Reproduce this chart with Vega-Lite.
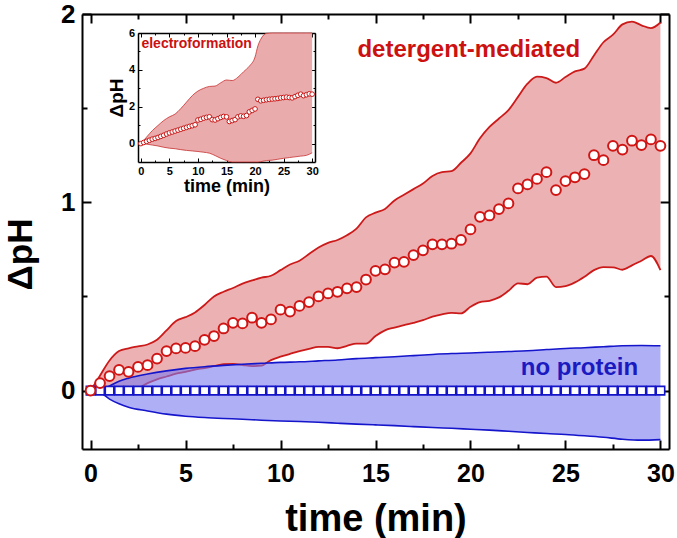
{
  "$schema": "https://vega.github.io/schema/vega-lite/v6.json",
  "width": 587,
  "height": 435,
  "autosize": "none",
  "padding": {"left": 82, "top": 14, "right": 8, "bottom": 89},
  "background": "white",
  "config": {
    "view": {"stroke": null},
    "font": "Liberation Sans",
    "axis": {"grid": false, "domainColor": "#000", "tickColor": "#000", "labelColor": "#000", "titleColor": "#000", "labelFont": "Liberation Sans", "titleFont": "Liberation Sans", "labelFontWeight": "bold", "titleFontWeight": "bold", "labelFlush": false, "labelOverlap": false, "labelBound": false, "format": "d", "zindex": 2}
  },
  "datasets": {
    "redband": [
      {"t":0,"lo":0,"hi":0},{"t":0.5,"lo":-0.01,"hi":0.08},{"t":1,"lo":-0.006,"hi":0.16},{"t":1.5,"lo":-0.003,"hi":0.21},{"t":2,"lo":0,"hi":0.225},{"t":2.5,"lo":0.012,"hi":0.235},{"t":3,"lo":0.04,"hi":0.245},{"t":3.5,"lo":0.06,"hi":0.27},{"t":4,"lo":0.075,"hi":0.32},{"t":4.5,"lo":0.09,"hi":0.37},{"t":5,"lo":0.1,"hi":0.39},{"t":5.5,"lo":0.112,"hi":0.415},{"t":6,"lo":0.12,"hi":0.455},{"t":6.5,"lo":0.13,"hi":0.5},{"t":7,"lo":0.14,"hi":0.525},{"t":7.5,"lo":0.142,"hi":0.545},{"t":8,"lo":0.136,"hi":0.568},{"t":8.5,"lo":0.13,"hi":0.585},{"t":9,"lo":0.133,"hi":0.6},{"t":9.5,"lo":0.162,"hi":0.61},{"t":10,"lo":0.18,"hi":0.64},{"t":10.5,"lo":0.195,"hi":0.67},{"t":11,"lo":0.21,"hi":0.69},{"t":11.5,"lo":0.222,"hi":0.725},{"t":12,"lo":0.232,"hi":0.76},{"t":12.5,"lo":0.232,"hi":0.785},{"t":13,"lo":0.225,"hi":0.8},{"t":13.5,"lo":0.238,"hi":0.825},{"t":14,"lo":0.25,"hi":0.86},{"t":14.5,"lo":0.25,"hi":0.92},{"t":15,"lo":0.29,"hi":0.945},{"t":15.5,"lo":0.32,"hi":0.965},{"t":16,"lo":0.335,"hi":1.01},{"t":16.5,"lo":0.348,"hi":1.04},{"t":17,"lo":0.36,"hi":1.07},{"t":17.5,"lo":0.374,"hi":1.1},{"t":18,"lo":0.393,"hi":1.14},{"t":18.5,"lo":0.405,"hi":1.16},{"t":19,"lo":0.413,"hi":1.165},{"t":19.5,"lo":0.41,"hi":1.21},{"t":20,"lo":0.445,"hi":1.26},{"t":20.5,"lo":0.47,"hi":1.34},{"t":21,"lo":0.477,"hi":1.4},{"t":21.5,"lo":0.495,"hi":1.445},{"t":22,"lo":0.53,"hi":1.49},{"t":22.5,"lo":0.57,"hi":1.56},{"t":23,"lo":0.565,"hi":1.63},{"t":23.5,"lo":0.6,"hi":1.667},{"t":24,"lo":0.605,"hi":1.66},{"t":24.5,"lo":0.55,"hi":1.635},{"t":25,"lo":0.555,"hi":1.665},{"t":25.5,"lo":0.575,"hi":1.695},{"t":26,"lo":0.605,"hi":1.71},{"t":26.5,"lo":0.64,"hi":1.78},{"t":27,"lo":0.656,"hi":1.85},{"t":27.5,"lo":0.655,"hi":1.89},{"t":28,"lo":0.642,"hi":1.945},{"t":28.5,"lo":0.665,"hi":1.96},{"t":29,"lo":0.69,"hi":1.94},{"t":29.5,"lo":0.715,"hi":1.925},{"t":30,"lo":0.64,"hi":1.955}
    ],
    "blueband": [
      {"t":0,"lo":0,"hi":0},{"t":0.5,"lo":-0.01,"hi":0.005},{"t":1,"lo":-0.045,"hi":0.025},{"t":1.5,"lo":-0.07,"hi":0.05},{"t":2,"lo":-0.088,"hi":0.066},{"t":3,"lo":-0.108,"hi":0.088},{"t":4,"lo":-0.125,"hi":0.105},{"t":5,"lo":-0.136,"hi":0.118},{"t":6,"lo":-0.143,"hi":0.127},{"t":7,"lo":-0.148,"hi":0.134},{"t":8,"lo":-0.152,"hi":0.14},{"t":9,"lo":-0.157,"hi":0.145},{"t":10,"lo":-0.161,"hi":0.15},{"t":11,"lo":-0.164,"hi":0.153},{"t":12,"lo":-0.168,"hi":0.158},{"t":13,"lo":-0.173,"hi":0.163},{"t":14,"lo":-0.178,"hi":0.17},{"t":15,"lo":-0.182,"hi":0.175},{"t":16,"lo":-0.186,"hi":0.18},{"t":17,"lo":-0.191,"hi":0.186},{"t":18,"lo":-0.196,"hi":0.192},{"t":19,"lo":-0.2,"hi":0.197},{"t":20,"lo":-0.205,"hi":0.2},{"t":21,"lo":-0.21,"hi":0.204},{"t":22,"lo":-0.216,"hi":0.208},{"t":23,"lo":-0.222,"hi":0.212},{"t":24,"lo":-0.228,"hi":0.218},{"t":25,"lo":-0.233,"hi":0.224},{"t":26,"lo":-0.24,"hi":0.228},{"t":27,"lo":-0.248,"hi":0.233},{"t":28,"lo":-0.258,"hi":0.238},{"t":29,"lo":-0.263,"hi":0.24},{"t":30,"lo":-0.26,"hi":0.238}
    ],
    "det": [
      {"t":0,"v":0},{"t":0.5,"v":0.04},{"t":1,"v":0.077},{"t":1.5,"v":0.11},{"t":2,"v":0.1},{"t":2.5,"v":0.126},{"t":3,"v":0.135},{"t":3.5,"v":0.17},{"t":4,"v":0.21},{"t":4.5,"v":0.224},{"t":5,"v":0.227},{"t":5.5,"v":0.236},{"t":6,"v":0.27},{"t":6.5,"v":0.29},{"t":7,"v":0.33},{"t":7.5,"v":0.36},{"t":8,"v":0.357},{"t":8.5,"v":0.387},{"t":9,"v":0.36},{"t":9.5,"v":0.378},{"t":10,"v":0.43},{"t":10.5,"v":0.42},{"t":11,"v":0.45},{"t":11.5,"v":0.47},{"t":12,"v":0.5},{"t":12.5,"v":0.516},{"t":13,"v":0.525},{"t":13.5,"v":0.543},{"t":14,"v":0.55},{"t":14.5,"v":0.59},{"t":15,"v":0.636},{"t":15.5,"v":0.644},{"t":16,"v":0.68},{"t":16.5,"v":0.684},{"t":17,"v":0.72},{"t":17.5,"v":0.745},{"t":18,"v":0.777},{"t":18.5,"v":0.777},{"t":19,"v":0.78},{"t":19.5,"v":0.8},{"t":20,"v":0.856},{"t":20.5,"v":0.923},{"t":21,"v":0.93},{"t":21.5,"v":0.964},{"t":22,"v":0.994},{"t":22.5,"v":1.074},{"t":23,"v":1.095},{"t":23.5,"v":1.124},{"t":24,"v":1.16},{"t":24.5,"v":1.065},{"t":25,"v":1.113},{"t":25.5,"v":1.133},{"t":26,"v":1.15},{"t":26.5,"v":1.25},{"t":27,"v":1.224},{"t":27.5,"v":1.3},{"t":28,"v":1.28},{"t":28.5,"v":1.327},{"t":29,"v":1.304},{"t":29.5,"v":1.334},{"t":30,"v":1.3}
    ],
    "noprot": [
      {"t":0,"v":0},{"t":0.5,"v":0},{"t":1,"v":0},{"t":1.5,"v":0},{"t":2,"v":0},{"t":2.5,"v":0},{"t":3,"v":0},{"t":3.5,"v":0},{"t":4,"v":0},{"t":4.5,"v":0},{"t":5,"v":0},{"t":5.5,"v":0},{"t":6,"v":0},{"t":6.5,"v":0},{"t":7,"v":0},{"t":7.5,"v":0},{"t":8,"v":0},{"t":8.5,"v":0},{"t":9,"v":0},{"t":9.5,"v":0},{"t":10,"v":0},{"t":10.5,"v":0},{"t":11,"v":0},{"t":11.5,"v":0},{"t":12,"v":0},{"t":12.5,"v":0},{"t":13,"v":0},{"t":13.5,"v":0},{"t":14,"v":0},{"t":14.5,"v":0},{"t":15,"v":0},{"t":15.5,"v":0},{"t":16,"v":0},{"t":16.5,"v":0},{"t":17,"v":0},{"t":17.5,"v":0},{"t":18,"v":0},{"t":18.5,"v":0},{"t":19,"v":0},{"t":19.5,"v":0},{"t":20,"v":0},{"t":20.5,"v":0},{"t":21,"v":0},{"t":21.5,"v":0},{"t":22,"v":0},{"t":22.5,"v":0},{"t":23,"v":0},{"t":23.5,"v":0},{"t":24,"v":0},{"t":24.5,"v":0},{"t":25,"v":0},{"t":25.5,"v":0},{"t":26,"v":0},{"t":26.5,"v":0},{"t":27,"v":0},{"t":27.5,"v":0},{"t":28,"v":0},{"t":28.5,"v":0},{"t":29,"v":0},{"t":29.5,"v":0},{"t":30,"v":0}
    ],
    "electro": [
      {"t":0,"v":0},{"t":0.5,"v":0.06},{"t":1,"v":0.12},{"t":1.5,"v":0.18},{"t":2,"v":0.24},{"t":2.5,"v":0.28},{"t":3,"v":0.33},{"t":3.5,"v":0.39},{"t":4,"v":0.45},{"t":4.5,"v":0.52},{"t":5,"v":0.58},{"t":5.5,"v":0.63},{"t":6,"v":0.68},{"t":6.5,"v":0.73},{"t":7,"v":0.78},{"t":7.5,"v":0.83},{"t":8,"v":0.88},{"t":8.5,"v":0.93},{"t":9,"v":0.97},{"t":9.5,"v":1.02},{"t":10,"v":1.28},{"t":10.5,"v":1.32},{"t":11,"v":1.38},{"t":11.5,"v":1.42},{"t":12,"v":1.45},{"t":12.5,"v":1.3},{"t":13,"v":1.28},{"t":13.5,"v":1.35},{"t":14,"v":1.42},{"t":14.5,"v":1.47},{"t":15,"v":1.45},{"t":15.5,"v":1.2},{"t":16,"v":1.25},{"t":16.5,"v":1.3},{"t":17,"v":1.45},{"t":17.5,"v":1.5},{"t":18,"v":1.48},{"t":18.5,"v":1.52},{"t":19,"v":1.72},{"t":19.5,"v":1.8},{"t":20,"v":1.88},{"t":20.5,"v":2.4},{"t":21,"v":2.32},{"t":21.5,"v":2.35},{"t":22,"v":2.38},{"t":22.5,"v":2.4},{"t":23,"v":2.42},{"t":23.5,"v":2.43},{"t":24,"v":2.45},{"t":24.5,"v":2.48},{"t":25,"v":2.5},{"t":25.5,"v":2.52},{"t":26,"v":2.5},{"t":26.5,"v":2.48},{"t":27,"v":2.55},{"t":27.5,"v":2.62},{"t":28,"v":2.68},{"t":28.5,"v":2.6},{"t":29,"v":2.65},{"t":29.5,"v":2.7},{"t":30,"v":2.68}
    ],
    "eband": [
      {"t":0,"lo":0,"hi":0},{"t":1,"lo":-0.03,"hi":0.35},{"t":2,"lo":-0.08,"hi":0.7},{"t":3,"lo":-0.13,"hi":0.98},{"t":4,"lo":-0.2,"hi":1.25},{"t":5,"lo":-0.25,"hi":1.45},{"t":6,"lo":-0.28,"hi":1.6},{"t":7,"lo":-0.33,"hi":1.9},{"t":8,"lo":-0.37,"hi":2.25},{"t":9,"lo":-0.4,"hi":2.6},{"t":10,"lo":-0.43,"hi":2.85},{"t":11,"lo":-0.47,"hi":3.0},{"t":12,"lo":-0.52,"hi":3.1},{"t":13,"lo":-0.65,"hi":3.12},{"t":14,"lo":-0.8,"hi":3.3},{"t":15,"lo":-0.92,"hi":3.45},{"t":16,"lo":-1.0,"hi":3.42},{"t":17,"lo":-1.0,"hi":3.6},{"t":18,"lo":-1.0,"hi":3.9},{"t":19,"lo":-1.0,"hi":4.2},{"t":20,"lo":-1.0,"hi":4.7},{"t":20.5,"lo":-1.0,"hi":5.3},{"t":21,"lo":-0.98,"hi":5.66},{"t":22,"lo":-0.92,"hi":5.98},{"t":23,"lo":-0.9,"hi":6.0},{"t":24,"lo":-0.85,"hi":6.0},{"t":25,"lo":-0.8,"hi":6.0},{"t":26,"lo":-0.76,"hi":6.0},{"t":27,"lo":-0.72,"hi":6.0},{"t":28,"lo":-0.68,"hi":6.0},{"t":29,"lo":-0.64,"hi":6.0},{"t":30,"lo":-0.5,"hi":6.0}
    ],
    "anchor": [{"t": 0, "v": 0}]
  },
  "layer": [
    {
      "layer": [
        {
          "data": {"name": "redband"},
          "mark": {"type": "area", "fill": "#ECB2B3", "interpolate": "monotone"},
          "encoding": {
            "x": {"field": "t", "type": "quantitative", "title": "time (min)", "scale": {"domain": [-0.45, 30.45], "nice": false, "zero": false},
              "axis": {"orient": "bottom", "values": [0,5,10,15,20,25,30], "ticks": false, "tickSize": 0, "domainWidth": 2,
                "labelFontSize": 25, "labelPadding": 12, "titleFontSize": 38, "titleBaseline": "alphabetic", "titleY": 81}},
            "y": {"field": "hi", "type": "quantitative", "title": "ΔpH", "scale": {"domain": [-0.31, 2], "nice": false, "zero": false},
              "axis": {"orient": "left", "values": [0,1,2], "ticks": false, "tickSize": 0, "domainWidth": 2,
                "labelFontSize": 26, "labelPadding": 7, "titleFontSize": 35, "titleBaseline": "alphabetic", "titleX": -51, "titleY": 240}},
            "y2": {"field": "lo"}
          }
        },
        {
          "data": {"name": "redband"},
          "mark": {"type": "line", "color": "#CC1A1A", "strokeWidth": 1.8, "interpolate": "monotone"},
          "encoding": {
            "x": {"field": "t", "type": "quantitative", "scale": {"domain": [-0.45, 30.45], "nice": false, "zero": false}, "axis": null},
            "y": {"field": "hi", "type": "quantitative", "scale": {"domain": [-0.31, 2], "nice": false, "zero": false}, "axis": null}
          }
        },
        {
          "data": {"name": "redband"},
          "mark": {"type": "line", "color": "#CC1A1A", "strokeWidth": 1.8, "interpolate": "monotone"},
          "encoding": {
            "x": {"field": "t", "type": "quantitative", "scale": {"domain": [-0.45, 30.45], "nice": false, "zero": false}, "axis": null},
            "y": {"field": "lo", "type": "quantitative", "scale": {"domain": [-0.31, 2], "nice": false, "zero": false}, "axis": null}
          }
        },
        {
          "data": {"name": "blueband"},
          "mark": {"type": "area", "fill": "#7A7AF0", "opacity": 0.6, "interpolate": "monotone"},
          "encoding": {
            "x": {"field": "t", "type": "quantitative", "scale": {"domain": [-0.45, 30.45], "nice": false, "zero": false}, "axis": null},
            "y": {"field": "hi", "type": "quantitative", "scale": {"domain": [-0.31, 2], "nice": false, "zero": false}, "axis": null},
            "y2": {"field": "lo"}
          }
        },
        {
          "data": {"name": "blueband"},
          "mark": {"type": "line", "color": "#1515CC", "strokeWidth": 1.6, "interpolate": "monotone"},
          "encoding": {
            "x": {"field": "t", "type": "quantitative", "scale": {"domain": [-0.45, 30.45], "nice": false, "zero": false}, "axis": null},
            "y": {"field": "hi", "type": "quantitative", "scale": {"domain": [-0.31, 2], "nice": false, "zero": false}, "axis": null}
          }
        },
        {
          "data": {"name": "blueband"},
          "mark": {"type": "line", "color": "#1515CC", "strokeWidth": 1.6, "interpolate": "monotone"},
          "encoding": {
            "x": {"field": "t", "type": "quantitative", "scale": {"domain": [-0.45, 30.45], "nice": false, "zero": false}, "axis": null},
            "y": {"field": "lo", "type": "quantitative", "scale": {"domain": [-0.31, 2], "nice": false, "zero": false}, "axis": null}
          }
        },
        {
          "data": {"name": "noprot"},
          "mark": {"type": "point", "shape": "square", "size": 72, "filled": true, "fill": "white", "stroke": "#1414C8", "strokeWidth": 1.6, "opacity": 1},
          "encoding": {
            "x": {"field": "t", "type": "quantitative", "scale": {"domain": [-0.45, 30.45], "nice": false, "zero": false}, "axis": null},
            "y": {"field": "v", "type": "quantitative", "scale": {"domain": [-0.31, 2], "nice": false, "zero": false}, "axis": null}
          }
        },
        {
          "data": {"name": "det"},
          "mark": {"type": "point", "shape": "circle", "size": 95, "filled": true, "fill": "white", "stroke": "#D01515", "strokeWidth": 2, "opacity": 1},
          "encoding": {
            "x": {"field": "t", "type": "quantitative", "scale": {"domain": [-0.45, 30.45], "nice": false, "zero": false}, "axis": null},
            "y": {"field": "v", "type": "quantitative", "scale": {"domain": [-0.31, 2], "nice": false, "zero": false}, "axis": null}
          }
        },
        {
          "data": {"values": [{"t": 14.05, "v": 1.77, "label": "detergent-mediated"}]},
          "mark": {"type": "text", "align": "left", "baseline": "alphabetic", "fontSize": 24, "fontWeight": "bold", "font": "Liberation Sans", "color": "#CC1111"},
          "encoding": {
            "x": {"field": "t", "type": "quantitative", "scale": {"domain": [-0.45, 30.45], "nice": false, "zero": false}, "axis": null},
            "y": {"field": "v", "type": "quantitative", "scale": {"domain": [-0.31, 2], "nice": false, "zero": false}, "axis": null},
            "text": {"field": "label"}
          }
        },
        {
          "data": {"values": [{"t": 22.65, "v": 0.085, "label": "no protein"}]},
          "mark": {"type": "text", "align": "left", "baseline": "alphabetic", "fontSize": 24, "fontWeight": "bold", "font": "Liberation Sans", "color": "#1A1AC0"},
          "encoding": {
            "x": {"field": "t", "type": "quantitative", "scale": {"domain": [-0.45, 30.45], "nice": false, "zero": false}, "axis": null},
            "y": {"field": "v", "type": "quantitative", "scale": {"domain": [-0.31, 2], "nice": false, "zero": false}, "axis": null},
            "text": {"field": "label"}
          }
        },
        {
          "data": {"name": "anchor"},
          "mark": {"type": "point", "opacity": 0},
          "encoding": {
            "x": {"field": "t", "type": "quantitative", "scale": {"domain": [-0.45, 30.45], "nice": false, "zero": false},
              "axis": {"orient": "top", "offset": -435, "title": null, "labels": false, "domain": false, "values": [0,5,10,15,20,25,30], "tickSize": 9, "tickWidth": 2}},
            "y": {"field": "v", "type": "quantitative", "scale": {"domain": [-0.31, 2], "nice": false, "zero": false},
              "axis": {"orient": "right", "offset": -587, "title": null, "labels": false, "domain": false, "values": [0,1,2], "tickSize": 9, "tickWidth": 2}}
          }
        },
        {
          "data": {"name": "anchor"},
          "mark": {"type": "point", "opacity": 0},
          "encoding": {
            "x": {"field": "t", "type": "quantitative", "scale": {"domain": [-0.45, 30.45], "nice": false, "zero": false},
              "axis": {"orient": "top", "offset": -435, "title": null, "labels": false, "domain": false, "values": [2.5,7.5,12.5,17.5,22.5,27.5], "tickSize": 5, "tickWidth": 2}},
            "y": {"field": "v", "type": "quantitative", "scale": {"domain": [-0.31, 2], "nice": false, "zero": false},
              "axis": {"orient": "right", "offset": -587, "title": null, "labels": false, "domain": false, "values": [0.5,1.5], "tickSize": 5, "tickWidth": 2}}
          }
        },
        {
          "data": {"name": "anchor"},
          "mark": {"type": "point", "opacity": 0},
          "encoding": {
            "x": {"field": "t", "type": "quantitative", "scale": {"domain": [-0.45, 30.45], "nice": false, "zero": false},
              "axis": {"orient": "bottom", "offset": -435, "title": null, "labels": false, "domain": true, "domainWidth": 2, "values": [0,5,10,15,20,25,30], "tickSize": 9, "tickWidth": 2}},
            "y": {"field": "v", "type": "quantitative", "scale": {"domain": [-0.31, 2], "nice": false, "zero": false},
              "axis": {"orient": "left", "offset": -587, "title": null, "labels": false, "domain": true, "domainWidth": 2, "values": [0,1,2], "tickSize": 9, "tickWidth": 2}}
          }
        },
        {
          "data": {"name": "anchor"},
          "mark": {"type": "point", "opacity": 0},
          "encoding": {
            "x": {"field": "t", "type": "quantitative", "scale": {"domain": [-0.45, 30.45], "nice": false, "zero": false},
              "axis": {"orient": "bottom", "offset": -435, "title": null, "labels": false, "domain": false, "values": [2.5,7.5,12.5,17.5,22.5,27.5], "tickSize": 5, "tickWidth": 2}},
            "y": {"field": "v", "type": "quantitative", "scale": {"domain": [-0.31, 2], "nice": false, "zero": false},
              "axis": {"orient": "left", "offset": -587, "title": null, "labels": false, "domain": false, "values": [0.5,1.5], "tickSize": 5, "tickWidth": 2}}
          }
        }
      ],
      "resolve": {"axis": {"x": "independent", "y": "independent"}}
    },
    {
      "layer": [
        {
          "data": {"name": "eband"},
          "mark": {"type": "area", "fill": "#E9ABAC", "interpolate": "monotone"},
          "encoding": {
            "x": {"field": "t", "type": "quantitative", "title": "time (min)", "scale": {"domain": [-0.5, 30.5], "range": [56, 233], "nice": false, "zero": false},
              "axis": {"orient": "bottom", "offset": -287, "values": [0,5,10,15,20,25,30], "ticks": false, "tickSize": 0, "domainWidth": 1.5,
                "labelFontSize": 11, "labelPadding": 3, "titleFontSize": 18, "titlePadding": 1}},
            "y": {"field": "hi", "type": "quantitative", "title": "ΔpH", "scale": {"domain": [-1, 6], "range": [148, 19], "nice": false, "zero": false},
              "axis": {"orient": "left", "offset": -56, "values": [0,2,4,6], "ticks": false, "tickSize": 0, "domainWidth": 1.5,
                "labelFontSize": 11, "labelPadding": 3.5, "titleFontSize": 19, "titlePadding": 2}},
            "y2": {"field": "lo"}
          }
        },
        {
          "data": {"name": "eband"},
          "mark": {"type": "line", "color": "#C83030", "strokeWidth": 0.8, "interpolate": "monotone"},
          "encoding": {
            "x": {"field": "t", "type": "quantitative", "scale": {"domain": [-0.5, 30.5], "range": [56, 233], "nice": false, "zero": false}, "axis": null},
            "y": {"field": "hi", "type": "quantitative", "scale": {"domain": [-1, 6], "range": [148, 19], "nice": false, "zero": false}, "axis": null}
          }
        },
        {
          "data": {"name": "eband"},
          "mark": {"type": "line", "color": "#C83030", "strokeWidth": 0.8, "interpolate": "monotone"},
          "encoding": {
            "x": {"field": "t", "type": "quantitative", "scale": {"domain": [-0.5, 30.5], "range": [56, 233], "nice": false, "zero": false}, "axis": null},
            "y": {"field": "lo", "type": "quantitative", "scale": {"domain": [-1, 6], "range": [148, 19], "nice": false, "zero": false}, "axis": null}
          }
        },
        {
          "data": {"name": "electro"},
          "mark": {"type": "point", "shape": "circle", "size": 22, "filled": true, "fill": "white", "stroke": "#C81818", "strokeWidth": 1, "opacity": 1},
          "encoding": {
            "x": {"field": "t", "type": "quantitative", "scale": {"domain": [-0.5, 30.5], "range": [56, 233], "nice": false, "zero": false}, "axis": null},
            "y": {"field": "v", "type": "quantitative", "scale": {"domain": [-1, 6], "range": [148, 19], "nice": false, "zero": false}, "axis": null}
          }
        },
        {
          "data": {"values": [{"t": 0.1, "v": 5.17, "label": "electroformation"}]},
          "mark": {"type": "text", "align": "left", "baseline": "alphabetic", "fontSize": 14, "fontWeight": "bold", "font": "Liberation Sans", "color": "#CC1111"},
          "encoding": {
            "x": {"field": "t", "type": "quantitative", "scale": {"domain": [-0.5, 30.5], "range": [56, 233], "nice": false, "zero": false}, "axis": null},
            "y": {"field": "v", "type": "quantitative", "scale": {"domain": [-1, 6], "range": [148, 19], "nice": false, "zero": false}, "axis": null},
            "text": {"field": "label"}
          }
        },
        {
          "data": {"name": "anchor"},
          "mark": {"type": "point", "opacity": 0},
          "encoding": {
            "x": {"field": "t", "type": "quantitative", "scale": {"domain": [-0.5, 30.5], "range": [56, 233], "nice": false, "zero": false},
              "axis": {"orient": "top", "offset": -148, "title": null, "labels": false, "domain": false, "values": [0,5,10,15,20,25,30], "tickSize": 4, "tickWidth": 1}},
            "y": {"field": "v", "type": "quantitative", "scale": {"domain": [-1, 6], "range": [148, 19], "nice": false, "zero": false},
              "axis": {"orient": "right", "offset": -531, "title": null, "labels": false, "domain": false, "values": [0,2,4,6], "tickSize": 4, "tickWidth": 1}}
          }
        },
        {
          "data": {"name": "anchor"},
          "mark": {"type": "point", "opacity": 0},
          "encoding": {
            "x": {"field": "t", "type": "quantitative", "scale": {"domain": [-0.5, 30.5], "range": [56, 233], "nice": false, "zero": false},
              "axis": {"orient": "top", "offset": -148, "title": null, "labels": false, "domain": false, "values": [2.5,7.5,12.5,17.5,22.5,27.5], "tickSize": 2, "tickWidth": 1}},
            "y": {"field": "v", "type": "quantitative", "scale": {"domain": [-1, 6], "range": [148, 19], "nice": false, "zero": false},
              "axis": {"orient": "right", "offset": -531, "title": null, "labels": false, "domain": false, "values": [1,3,5], "tickSize": 2, "tickWidth": 1}}
          }
        },
        {
          "data": {"name": "anchor"},
          "mark": {"type": "point", "opacity": 0},
          "encoding": {
            "x": {"field": "t", "type": "quantitative", "scale": {"domain": [-0.5, 30.5], "range": [56, 233], "nice": false, "zero": false},
              "axis": {"orient": "bottom", "offset": -416, "title": null, "labels": false, "domain": true, "domainWidth": 1.5, "values": [0,5,10,15,20,25,30], "tickSize": 4, "tickWidth": 1}},
            "y": {"field": "v", "type": "quantitative", "scale": {"domain": [-1, 6], "range": [148, 19], "nice": false, "zero": false},
              "axis": {"orient": "left", "offset": -233, "title": null, "labels": false, "domain": true, "domainWidth": 1.5, "values": [0,2,4,6], "tickSize": 4, "tickWidth": 1}}
          }
        },
        {
          "data": {"name": "anchor"},
          "mark": {"type": "point", "opacity": 0},
          "encoding": {
            "x": {"field": "t", "type": "quantitative", "scale": {"domain": [-0.5, 30.5], "range": [56, 233], "nice": false, "zero": false},
              "axis": {"orient": "bottom", "offset": -416, "title": null, "labels": false, "domain": false, "values": [2.5,7.5,12.5,17.5,22.5,27.5], "tickSize": 2, "tickWidth": 1}},
            "y": {"field": "v", "type": "quantitative", "scale": {"domain": [-1, 6], "range": [148, 19], "nice": false, "zero": false},
              "axis": {"orient": "left", "offset": -233, "title": null, "labels": false, "domain": false, "values": [1,3,5], "tickSize": 2, "tickWidth": 1}}
          }
        }
      ],
      "resolve": {"axis": {"x": "independent", "y": "independent"}}
    }
  ],
  "resolve": {"scale": {"x": "independent", "y": "independent"}}
}
